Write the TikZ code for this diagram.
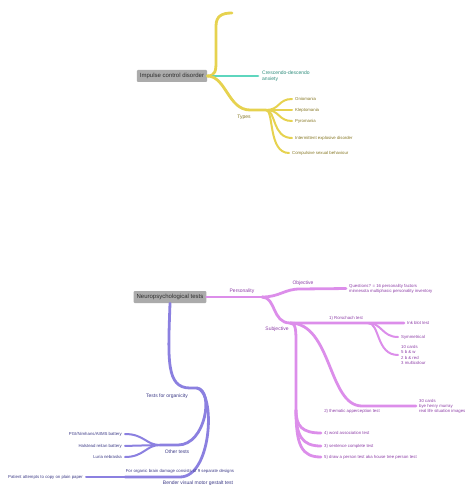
\documentclass[tikz,border=0pt]{standalone}
\usepackage{fontspec}
\setmainfont{Liberation Sans}
\usetikzlibrary{positioning}
\definecolor{yel}{HTML}{E6D24F}
\definecolor{yelt}{HTML}{857622}
\definecolor{tea}{HTML}{5ED6BE}
\definecolor{teat}{HTML}{2E8C7B}
\definecolor{pnk}{HTML}{DC8EEA}
\definecolor{pnkt}{HTML}{8C3DA6}
\definecolor{vio}{HTML}{8B80E0}
\definecolor{viot}{HTML}{3C3A86}
\definecolor{boxg}{HTML}{ABABAB}
\definecolor{ink}{HTML}{2E2E2E}
\tikzset{
  root/.style={fill=boxg,rounded corners=1pt,inner xsep=3pt,inner ysep=1pt,minimum height=12pt,font=\fontsize{6}{7}\selectfont,text=ink},
  br/.style={line width=2.8pt,line cap=round},
  lf/.style={line width=2pt,line cap=round},
  ybr/.style={br,yel},ylf/.style={lf,yel,shorten >=2pt},
  pbr/.style={br,pnk},plf/.style={lf,pnk,shorten >=2pt},
  vbr/.style={br,vio},vlf/.style={lf,vio,shorten >=2pt},
  mid/.style={font=\fontsize{5}{6}\selectfont,inner sep=1pt},
  sml/.style={font=\fontsize{4.3}{5.1}\selectfont,inner sep=1pt,align=left}
}

\begin{document}
\begin{tikzpicture}[x=1pt,y=-1pt]
\useasboundingbox (0,0) rectangle (474,494);
% impulse control disorder
\node[root] (icd) at (172,76) {Impulse control disorder};
\coordinate (ytop) at (232,13);
\coordinate (anxe) at (258,76);
\coordinate (typ) at (266,110);
\draw[ybr] (icd.east) .. controls (216,76) and (216,70) .. (216,60) -- (216,26) .. controls (216,16) and (222,13) .. (ytop);
\draw[br,tea] (icd.east) -- (anxe);
\node[mid,text=teat,anchor=west,align=left] (anx) at (261,76) {Crescendo-descendo\\anxiety};
\draw[ybr] (icd.east) .. controls (226,76) and (228,110) .. (250,110) -- (typ);
\node[mid,text=yelt] (types) at (244,117) {Types};
\node[sml,text=yelt,anchor=west] (onio) at (294,99) {Oniomania};
\node[sml,text=yelt,anchor=west] (klep) at (294,110) {Kleptomania};
\node[sml,text=yelt,anchor=west] (pyro) at (294,121) {Pyromania};
\node[sml,text=yelt,anchor=west] (ied) at (294,138) {Intermittent explosive disorder};
\node[sml,text=yelt,anchor=west] (csb) at (291,153) {Compulsive sexual behaviour};
\draw[ylf] (typ) .. controls (280,110) and (278,99) .. (onio.west);
\draw[ylf] (typ) -- (klep.west);
\draw[ylf] (typ) .. controls (280,110) and (278,121) .. (pyro.west);
\draw[ylf] (typ) .. controls (276,110) and (272,138) .. (ied.west);
\draw[ylf] (typ) .. controls (274,110) and (268,153) .. (csb.west);
% neuropsychological tests
\node[root] (npt) at (170,297) {Neuropsychological tests};
\coordinate (pers) at (262,297);
\draw[pbr] (npt.east) -- (pers);
\node[mid,text=pnkt] (perl) at (242,291) {Personality};
\node[sml,text=pnkt,anchor=west] (quest) at (348,288.5) {Questions? = 16 personality factors\\minnesota multiphasic personality inventory};
\draw[pbr,shorten >=2pt] (pers) .. controls (280,297) and (284,289) .. (300,289) -- (quest.west);
\node[mid,text=pnkt] (objl) at (303,283.5) {Objective};
\coordinate (sub) at (290,323);
\node[sml,text=pnkt,anchor=west] (ink) at (406,323) {Ink blot test};
\draw[pbr,shorten >=2pt] (pers) .. controls (276,297) and (272,323) .. (sub) -- (ink.west);
\node[mid,text=pnkt] (subl) at (277,329.5) {Subjective};
\node[sml,text=pnkt] (rors) at (346,318.5) {1) Rorschach test};
\coordinate (rk) at (368,323);
\node[sml,text=pnkt,anchor=west] (sym) at (400,337) {Symmetrical};
\node[sml,text=pnkt,anchor=west] (cards) at (400,355) {10 cards\\5 b \& w\\2 b \& red\\3 multicolour};
\draw[plf] (rk) .. controls (382,323) and (382,337) .. (sym.west);
\draw[plf] (rk) .. controls (380,323) and (376,355) .. (cards.west);
\node[sml,text=pnkt,anchor=west] (tat) at (418,406) {30 cards\\bye henry murray\\real life situation images};
\draw[pbr,shorten >=2pt] (sub) .. controls (332,323) and (328,406) .. (362,406) -- (tat.west);
\node[sml,text=pnkt] (tatl) at (352,411.5) {2) thematic apperception test};
\node[sml,text=pnkt,anchor=west] (wat) at (323,433) {4) word association test};
\node[sml,text=pnkt,anchor=west] (sct) at (323,446) {3) sentence complete test};
\node[sml,text=pnkt,anchor=west] (dap) at (323,457) {5) draw a person test aka house tree person test};
\draw[pbr,shorten >=2pt] (sub) .. controls (296,323) and (296,330) .. (296,345) -- (296,410) .. controls (296,426) and (302,433) .. (wat.west);
\draw[pbr,shorten >=2pt] (296,410) .. controls (296,436) and (302,446) .. (sct.west);
\draw[pbr,shorten >=2pt] (296,410) .. controls (296,446) and (302,457) .. (dap.west);
% tests for organicity
\coordinate (org) at (197,388);
\draw[vbr] (npt.south) .. controls (168,360) and (166,388) .. (190,388) -- (org);
\node[mid,text=viot] (orgl) at (167,396) {Tests for organicity};
\coordinate (oth) at (160,445);
\draw[vbr] (org) .. controls (214,390) and (206,445) .. (178,445) -- (oth);
\node[mid,text=viot] (othl) at (177,452) {Other tests};
\node[sml,text=viot,anchor=east] (pgi) at (123,434) {PGI/Nimhans/AIIMS battery};
\node[sml,text=viot,anchor=east] (hrb) at (123,446) {Halstead reitan battery};
\node[sml,text=viot,anchor=east] (lnb) at (123,457) {Luria nebraska};
\draw[vlf] (oth) .. controls (146,445) and (144,434) .. (pgi.east);
\draw[vlf] (oth) -- (hrb.east);
\draw[vlf] (oth) .. controls (146,445) and (144,457) .. (lnb.east);
\coordinate (bend) at (125,477);
\draw[vbr] (org) .. controls (216,392) and (212,477) .. (180,477) -- (bend);
\node[mid,text=viot] (bendl) at (198,483) {Bender visual motor gestalt test};
\node[sml,text=viot] (bdes) at (180,471) {For organic brain damage consists of 9 separate designs};
\node[sml,text=viot,anchor=east] (pat) at (84,477) {Patient attempts to copy on plain paper};
\draw[vlf] (bend) -- (pat.east);
\end{tikzpicture}
\end{document}
